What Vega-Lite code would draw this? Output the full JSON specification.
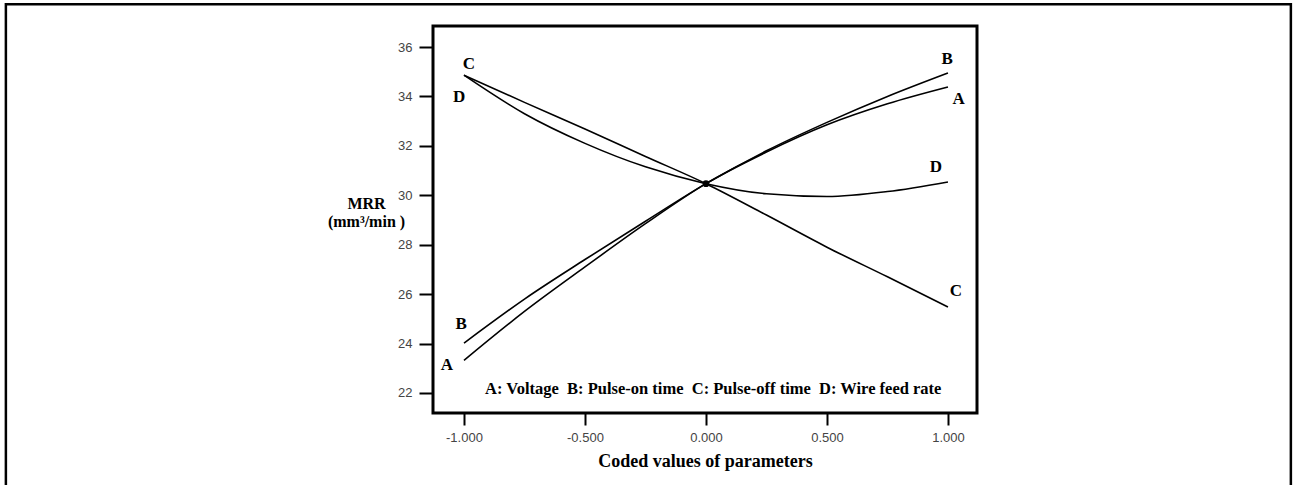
{
  "$schema": "https://vega.github.io/schema/vega-lite/v6.json",
  "width": 544,
  "height": 387,
  "autosize": {"type": "none"},
  "padding": {"left": 433, "top": 26, "right": 317, "bottom": 72},
  "background": "white",
  "config": {
    "view": {"stroke": "black", "strokeWidth": 3},
    "axis": {"grid": false, "domain": false}
  },
  "datasets": {
    "curves": [
      {"x": -1, "y": 23.32, "s": "A"}, {"x": -0.75, "y": 25.3, "s": "A"}, {"x": -0.5, "y": 27.1, "s": "A"}, {"x": -0.25, "y": 28.85, "s": "A"}, {"x": 0, "y": 30.47, "s": "A"}, {"x": 0.25, "y": 31.75, "s": "A"}, {"x": 0.5, "y": 32.85, "s": "A"}, {"x": 0.75, "y": 33.7, "s": "A"}, {"x": 1, "y": 34.38, "s": "A"},
      {"x": -1, "y": 24.02, "s": "B"}, {"x": -0.75, "y": 25.8, "s": "B"}, {"x": -0.5, "y": 27.4, "s": "B"}, {"x": -0.25, "y": 28.95, "s": "B"}, {"x": 0, "y": 30.47, "s": "B"}, {"x": 0.25, "y": 31.8, "s": "B"}, {"x": 0.5, "y": 32.95, "s": "B"}, {"x": 0.75, "y": 34.0, "s": "B"}, {"x": 1, "y": 34.95, "s": "B"},
      {"x": -1, "y": 34.86, "s": "C"}, {"x": -0.75, "y": 33.76, "s": "C"}, {"x": -0.5, "y": 32.68, "s": "C"}, {"x": -0.25, "y": 31.57, "s": "C"}, {"x": 0, "y": 30.47, "s": "C"}, {"x": 0.25, "y": 29.2, "s": "C"}, {"x": 0.5, "y": 27.9, "s": "C"}, {"x": 0.75, "y": 26.7, "s": "C"}, {"x": 1, "y": 25.48, "s": "C"},
      {"x": -1, "y": 34.86, "s": "D"}, {"x": -0.75, "y": 33.3, "s": "D"}, {"x": -0.5, "y": 32.1, "s": "D"}, {"x": -0.25, "y": 31.15, "s": "D"}, {"x": 0, "y": 30.47, "s": "D"}, {"x": 0.25, "y": 30.06, "s": "D"}, {"x": 0.5, "y": 29.95, "s": "D"}, {"x": 0.75, "y": 30.15, "s": "D"}, {"x": 1, "y": 30.54, "s": "D"}
    ],
    "labels": [
      {"x": -0.98, "y": 35.33, "t": "C"},
      {"x": -1.02, "y": 33.98, "t": "D"},
      {"x": 0.997, "y": 35.53, "t": "B"},
      {"x": 1.044, "y": 33.91, "t": "A"},
      {"x": 0.95, "y": 31.15, "t": "D"},
      {"x": 1.033, "y": 26.13, "t": "C"},
      {"x": -1.012, "y": 24.78, "t": "B"},
      {"x": -1.071, "y": 23.12, "t": "A"}
    ],
    "note": [
      {"x": 0.03, "y": 22.15, "t": "A: Voltage\u00a0\u00a0B: Pulse-on time\u00a0\u00a0C: Pulse-off time\u00a0\u00a0D: Wire feed rate"}
    ],
    "center": [{"x": 0, "y": 30.47}]
  },
  "encoding": {
    "x": {
      "field": "x", "type": "quantitative",
      "scale": {"domain": [-1.128, 1.12], "nice": false, "zero": false},
      "axis": {
        "values": [-1, -0.5, 0, 0.5, 1],
        "labelExpr": "replace(format(datum.value, '.3f'), '\u2212', '-')",
        "labelFont": "Liberation Sans", "labelFontSize": 13, "labelColor": "#444444",
        "tickColor": "black", "tickSize": 12, "tickWidth": 2, "labelPadding": 6,
        "title": "Coded values of parameters",
        "titleFont": "Liberation Serif", "titleFontSize": 18, "titleFontWeight": "bold", "titleColor": "black",
        "titlePadding": 8
      }
    },
    "y": {
      "field": "y", "type": "quantitative",
      "scale": {"domain": [21.19, 36.85], "nice": false, "zero": false},
      "axis": {
        "values": [22, 24, 26, 28, 30, 32, 34, 36],
        "labelFont": "Liberation Sans", "labelFontSize": 13, "labelColor": "#444444",
        "tickColor": "black", "tickSize": 14, "tickWidth": 2, "labelPadding": 7,
        "title": ["MRR", "(mm³/min )"],
        "titleFont": "Liberation Serif", "titleFontSize": 16, "titleFontWeight": "bold", "titleColor": "black",
        "titleAngle": 0, "titleAlign": "center", "titleBaseline": "top",
        "titleX": -67, "titleY": 169, "titleLineHeight": 18
      }
    }
  },
  "layer": [
    {
      "data": {"name": "curves"},
      "mark": {"type": "line", "color": "black", "strokeWidth": 1.6, "interpolate": "monotone"},
      "encoding": {"detail": {"field": "s"}}
    },
    {
      "data": {"name": "center"},
      "mark": {"type": "point", "filled": true, "color": "black", "size": 45, "opacity": 1}
    },
    {
      "data": {"name": "labels"},
      "mark": {"type": "text", "font": "Liberation Serif", "fontSize": 17, "fontWeight": "bold", "color": "black", "baseline": "middle", "align": "center"},
      "encoding": {"text": {"field": "t"}}
    },
    {
      "data": {"name": "note"},
      "mark": {"type": "text", "font": "Liberation Serif", "fontSize": 16.5, "fontWeight": "bold", "color": "black", "baseline": "middle", "align": "center"},
      "encoding": {"text": {"field": "t"}}
    },
    {
      "data": {"name": "center"},
      "mark": {"type": "rect", "fill": "transparent", "stroke": "black", "strokeWidth": 2.5, "clip": false},
      "encoding": {
        "x": {"datum": -2.893, "type": "quantitative"},
        "x2": {"datum": 2.417},
        "y": {"datum": 37.73, "type": "quantitative"},
        "y2": {"datum": 16.5}
      }
    }
  ]
}
